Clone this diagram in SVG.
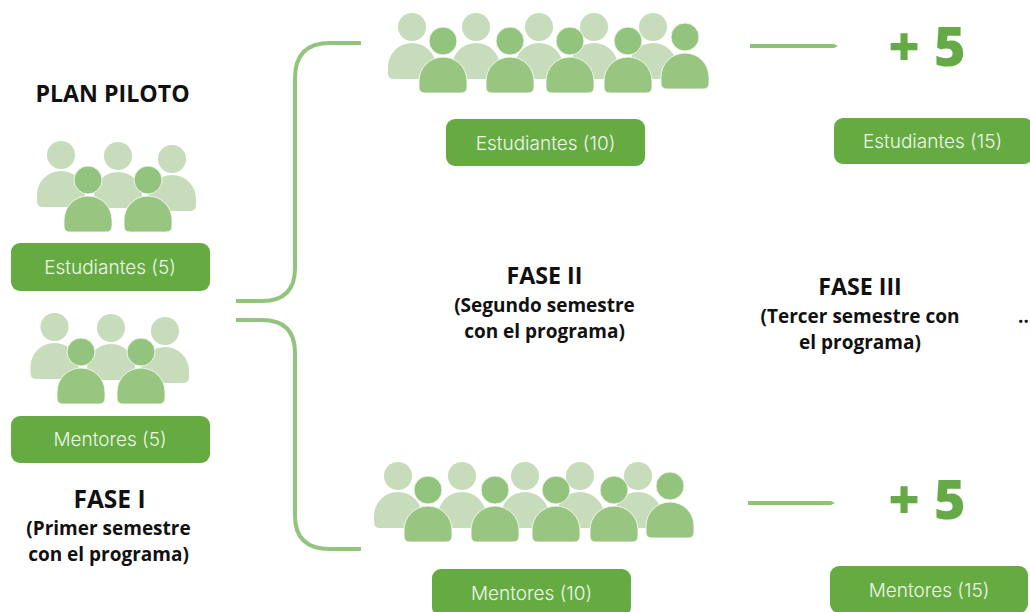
<svg xmlns="http://www.w3.org/2000/svg" width="1030" height="612" viewBox="0 0 1030 612">
<style>
.t{font-family:"Open Sans","Noto Sans","Liberation Sans",sans-serif;font-weight:700;fill:#111;text-anchor:middle}
.h{font-size:23.200px}.s{font-size:19px}
.b{fill:#65ab41}
.l{font-family:Inter,"Open Sans","Liberation Sans",sans-serif;font-size:19px;font-weight:300;fill:#eef6ea;text-anchor:middle}
.p{font-family:"Open Sans","Noto Sans","Liberation Sans",sans-serif;font-weight:800;font-size:54px;fill:#66a947;text-anchor:middle}
.c{fill:none;stroke:#93c47d;stroke-width:4}
.a{fill:#8fc177}
</style>
<defs>
<g id="lt"><circle cx="0" cy="0" r="14" fill="#c6dcba"/><path d="M-24 46V40A24 24 0 0 1 24 40V46Q24 52 18 52H-18Q-24 52 -24 46Z" fill="#c6dcba"/></g>
<g id="dk"><circle cx="0" cy="0" r="14" fill="#93c47d" stroke="#fff" stroke-width=".8"/><path d="M-24 46V40A24 24 0 0 1 24 40V46Q24 52 18 52H-18Q-24 52 -24 46Z" fill="#98c681" stroke="#fff" stroke-width=".8"/></g>
</defs>
<rect width="1030" height="612" fill="#fff"/>
<g id="connectors">
<path class="c" d="M236 301H262Q295 301 295 268V78Q295 43 330 43H361"/>
<path class="c" d="M236 320H262Q295 320 295 353V516Q295 549 330 549H361"/>
<path class="a" d="M750 44L834 44L838 46L834 48L750 48Z"/>
<path class="a" d="M748 501L831 501L835 503L831 505L748 505Z"/>
</g>
<g id="plan-piloto"><text class="t h" x="112.500" y="102">PLAN PILOTO</text></g>
<g id="estudiantes-5">
<use href="#lt" x="61" y="155"/><use href="#lt" x="118" y="156"/><use href="#lt" x="172" y="159"/>
<use href="#dk" x="88" y="180"/><use href="#dk" x="148" y="180"/>
<rect class="b" x="11" y="243" width="199" height="48" rx="9"/><text class="l" x="110" y="274">Estudiantes (5)</text>
</g>
<g id="mentores-5">
<use href="#lt" x="54.500" y="327"/><use href="#lt" x="111" y="328"/><use href="#lt" x="165" y="331"/>
<use href="#dk" x="81" y="352"/><use href="#dk" x="141" y="352"/>
<rect class="b" x="11" y="416" width="199" height="47" rx="9"/><text class="l" x="110" y="446">Mentores (5)</text>
</g>
<g id="fase-1">
<text class="t" style="font-size:24.500px" x="109.500" y="508">FASE I</text>
<text class="t s" x="108.500" y="535">(Primer semestre</text>
<text class="t s" x="108.500" y="561">con el programa)</text>
</g>
<g id="estudiantes-10">
<use href="#lt" x="412" y="27"/><use href="#lt" x="476" y="27"/><use href="#lt" x="539" y="27"/><use href="#lt" x="594" y="27"/><use href="#lt" x="653" y="27"/>
<use href="#dk" x="443" y="41"/><use href="#dk" x="510" y="41"/><use href="#dk" x="570" y="41"/><use href="#dk" x="628" y="41"/><use href="#dk" x="685" y="37"/>
<rect class="b" x="446" y="119" width="199" height="47" rx="9"/><text class="l" x="545.500" y="149.500">Estudiantes (10)</text>
</g>
<g id="fase-2">
<text class="t h" x="544.500" y="284">FASE II</text>
<text class="t s" x="544.500" y="312">(Segundo semestre</text>
<text class="t s" x="544.500" y="338">con el programa)</text>
</g>
<g id="mentores-10">
<use href="#lt" x="398" y="476"/><use href="#lt" x="462" y="476"/><use href="#lt" x="525" y="476"/><use href="#lt" x="580" y="476"/><use href="#lt" x="638" y="476"/>
<use href="#dk" x="428" y="490"/><use href="#dk" x="495" y="490"/><use href="#dk" x="556" y="490"/><use href="#dk" x="614" y="490"/><use href="#dk" x="670" y="486"/>
<rect class="b" x="432" y="569" width="199" height="47" rx="9"/><text class="l" x="531.500" y="599.500">Mentores (10)</text>
</g>
<g id="plus-5-top"><text class="p" x="927" y="66">+ 5</text></g>
<g id="estudiantes-15"><rect class="b" x="834" y="118" width="199" height="46" rx="9"/><text class="l" x="932.500" y="147.500">Estudiantes (15)</text></g>
<g id="fase-3">
<text class="t h" x="860" y="295">FASE III</text>
<text class="t s" x="860" y="323">(Tercer semestre con</text>
<text class="t s" x="860" y="349">el programa)</text>
</g>
<g id="ellipsis"><text class="t s" x="1018" y="323" style="text-anchor:start">..</text></g>
<g id="plus-5-bottom"><text class="p" x="927" y="519">+ 5</text></g>
<g id="mentores-15"><rect class="b" x="830" y="566" width="198" height="47" rx="9"/><text class="l" x="929" y="596.500">Mentores (15)</text></g>
</svg>
